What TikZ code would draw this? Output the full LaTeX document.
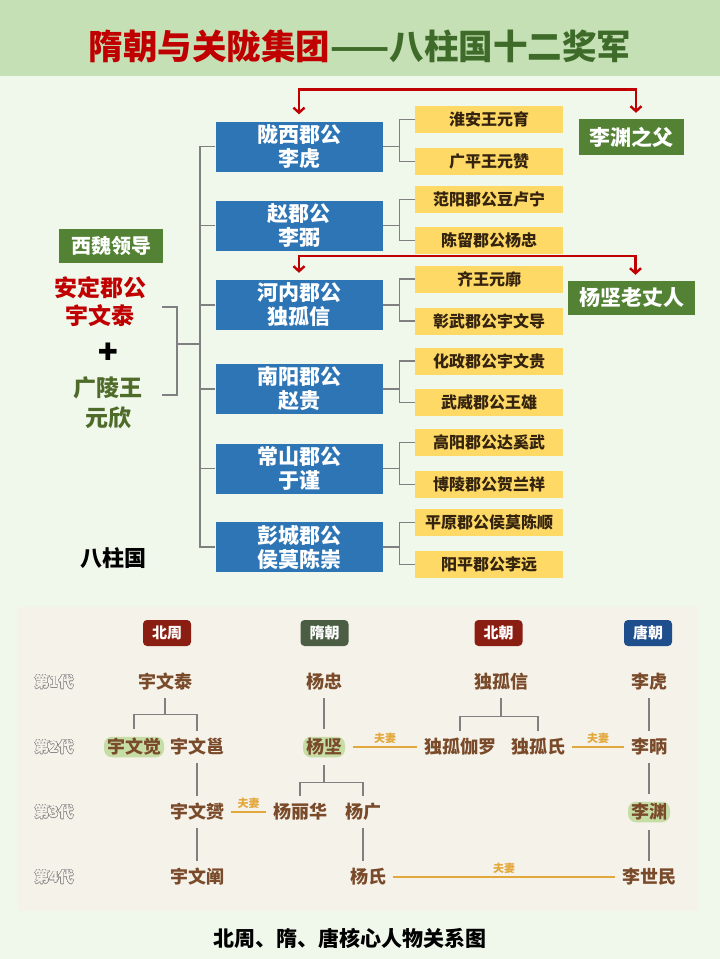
\documentclass[tikz,border=0pt]{standalone}
\usepackage{fontspec}
\setmainfont{Noto Sans CJK SC}
\newfontfamily\symfont{DejaVu Sans}
\usepackage{tikz}
\usetikzlibrary{arrows.meta}
\usepackage{contour}
\contournumber{16}
\contourlength{0.45pt}
\definecolor{banner}{HTML}{C5E0B4}
\definecolor{pagebg}{HTML}{F0F7EB}
\definecolor{titlered}{HTML}{C00000}
\definecolor{titlegreen}{HTML}{3E6B2A}
\definecolor{pillarblue}{HTML}{2E75B6}
\definecolor{genyellow}{HTML}{FFD966}
\definecolor{gentext}{HTML}{33230F}
\definecolor{taggreen}{HTML}{548235}
\definecolor{linegray}{HTML}{808080}
\definecolor{linkred}{HTML}{C00000}
\definecolor{olivetext}{HTML}{4F6B2A}
\definecolor{panel}{HTML}{F5F2EA}
\definecolor{namebrown}{HTML}{7A4B2A}
\definecolor{hlgreen}{HTML}{C6DDA5}
\definecolor{zhoured}{HTML}{8B1E12}
\definecolor{suigreen}{HTML}{4B5E44}
\definecolor{tangblue}{HTML}{1F4E8C}
\definecolor{spousegold}{HTML}{E3A83B}
\definecolor{gengray}{HTML}{8A8A8A}

\begin{document}
\begin{tikzpicture}[x=1pt, y=-1pt,
    pillar/.style={fill=pillarblue, text=white, minimum width=167pt, minimum height=50pt,
      inner sep=0pt, align=center, font=\fontsize{21}{24}\selectfont\bfseries},
    general/.style={fill=genyellow, text=gentext, minimum width=148pt, minimum height=27pt,
      inner sep=0pt, font=\fontsize{16}{16}\selectfont\bfseries},
    tag/.style={fill=taggreen, text=white, inner sep=0pt, font=\fontsize{21}{21}\selectfont\bfseries},
    branch/.style={draw=linegray, line width=1.2pt},
    redlink/.style={draw=linkred, line width=2.4pt,
      {Straight Barb[length=5pt,width=11pt]}-{Straight Barb[length=5pt,width=11pt]},
      shorten <=7pt, shorten >=6pt},
    era/.style={rounded corners=4pt, text=white, minimum width=48pt, minimum height=26pt,
      inner sep=0pt, font=\fontsize{15}{15}\selectfont\bfseries},
    person/.style={text=namebrown, inner sep=0pt, outer sep=7pt, text height=15pt,
      text depth=2.5pt, font=\fontsize{18}{18}\selectfont\bfseries},
    heir/.style={person, fill=hlgreen, rounded corners=8pt, inner xsep=3pt,
      inner ysep=1.5pt, outer sep=8pt},
    kin/.style={draw=linegray, line width=1.4pt},
    spouse/.style={draw=spousegold, line width=1.4pt},
    wed/.style={text=spousegold, inner sep=0pt, above=3pt, font=\fontsize{11}{11}\selectfont\bfseries},
    gen/.style={text=panel, font=\fontsize{15}{15}\selectfont\bfseries}]

    % page and banner
    \useasboundingbox (0,0) rectangle (720,959);
    \fill[pagebg] (0,0) rectangle (720,959);
    \fill[banner] (0,0) rectangle (720,76);
    \node[font=\fontsize{34.5}{34.5}\selectfont\bfseries] (title) at (360,46)
      {\textcolor{titlered}{隋朝与关陇集团}\textcolor{titlegreen}{——八柱国十二奖军}};

    % the eight pillars (six of them here)
    \foreach \n/\y/\ta/\tb in {1/146.5/陇西郡公/李虎, 2/225.5/赵郡公/李弼,
        3/305/河内郡公/独孤信, 4/389/南阳郡公/赵贵, 5/468.5/常山郡公/于谨,
        6/547/彭城郡公/侯莫陈崇}
      \node[pillar] (p\n) at (299,\y) {\ta\\\tb};

    % the twelve generals, two per pillar
    \foreach \n/\ya/\yb/\ta/\tb in {1/119.5/161.5/淮安王元育/广平王元赞,
        2/199.5/240.5/范阳郡公豆卢宁/陈留郡公杨忠, 3/279/321/齐王元廓/彰武郡公宇文导,
        4/361/402.5/化政郡公宇文贵/武威郡公王雄, 5/442.5/484.5/高阳郡公达奚武/博陵郡公贺兰祥,
        6/522.5/564.5/平原郡公侯莫陈顺/阳平郡公李远} {
      \node[general] (gA\n) at (489,\ya) {\ta};
      \node[general] (gB\n) at (489,\yb) {\tb};
    }

    % side notes
    \node[tag, minimum width=105pt, minimum height=36pt] (lyfather) at (631,137) {李渊之父};
    \node[tag, minimum width=127pt, minimum height=34pt] (yjfather) at (631.5,298) {杨坚老丈人};

    % leaders on the left
    \node[tag, minimum width=104pt, minimum height=34pt, font=\fontsize{20}{20}\selectfont\bfseries]
      (lead) at (111,246) {西魏领导};
    \node[text=titlered, align=center, font=\fontsize{23}{28}\selectfont\bfseries]
      (adtai) at (100,302) {安定郡公\\宇文泰};
    \node[font=\symfont\fontsize{24}{24}\selectfont] (plus) at (108,352) {✚};
    \node[text=olivetext, align=center, font=\fontsize{23}{30}\selectfont\bfseries]
      (glwang) at (108,403) {广陵王\\元欣};
    \node[font=\fontsize{22}{22}\selectfont\bfseries] (bzg) at (113,558) {八柱国};
    \coordinate (adend) at (162,307);
    \coordinate (glend) at (162,395);
    \coordinate (lk) at (177,344);
    \coordinate (trunk) at (200,344);

    % tree lines
    \draw[branch] (adend) -| (lk) |- (glend);
    \draw[branch] (lk) -- (trunk);
    \draw[branch] (p1.west) -- (p1.west -| trunk) -- (p6.west -| trunk) -- (p6.west);
    \foreach \n in {2,...,5}
      \draw[branch] (p\n.west) -- (p\n.west -| trunk);
    \foreach \n in {1,...,6} {
      \draw[branch] (p\n.east) -- ([xshift=-15pt]gA\n.west |- p\n.east);
      \draw[branch] (gA\n.west) -- ++(-15,0) |- (gB\n.west);
    }

    % red links
    \draw[redlink] (p1.north) -- ++(0,-32) -| ([xshift=5pt]lyfather.north);
    \draw[redlink] (p3.north) -- ++(0,-24) -| ([xshift=4pt]yjfather.north);

    % family chart
    \fill[panel] (17,607) rectangle (698,911);
    \node[era, fill=zhoured] (ez) at (167,633) {北周};
    \node[era, fill=suigreen] (es) at (324.5,633) {隋朝};
    \node[era, fill=zhoured] (eb) at (498.5,633) {北朝};
    \node[era, fill=tangblue] (et) at (648,633) {唐朝};
    \foreach \g/\y in {1/682, 2/747, 3/812, 4/877}
      \node[gen] (gen\g) at (54,\y) {\contour{gengray}{第\g 代}};

    \node[person] (zt) at (165,682) {宇文泰};
    \node[person] (yzh) at (324,682) {杨忠};
    \node[person] (dgx) at (501,682) {独孤信};
    \node[person] (lhu) at (649,682) {李虎};
    \node[heir] (zjue) at (134,747) {宇文觉};
    \node[person] (zyong) at (197,747) {宇文邕};
    \node[heir] (yjian) at (324,747) {杨坚};
    \node[person] (dgjl) at (460,747) {独孤伽罗};
    \node[person] (dgs) at (538,747) {独孤氏};
    \node[person] (lbing) at (649,747) {李昞};
    \node[person] (zyun) at (197,812) {宇文赟};
    \node[person] (ylh) at (300,812) {杨丽华};
    \node[person] (yg) at (363,812) {杨广};
    \node[heir] (lyuan) at (649,812) {李渊};
    \node[person] (zchan) at (197,877) {宇文阐};
    \node[person] (ys) at (368,877) {杨氏};
    \node[person] (lsm) at (649,877) {李世民};

    % descent
    \draw[kin] (zt.south) -- ++(0,17) coordinate (fz);
    \draw[kin] (zjue.north) |- (fz) -| (zyong.north);
    \draw[kin] (yjian.south) -- ++(0,17) coordinate (fy);
    \draw[kin] (ylh.north) |- (fy) -| (yg.north);
    \draw[kin] (dgx.south) -- ++(0,19) coordinate (fd);
    \draw[kin] (dgjl.north) |- (fd) -| (dgs.north);
    \draw[kin] (zyong.south) -- (zyun.north);
    \draw[kin] (zyun.south) -- (zchan.north);
    \draw[kin] (yzh.south) -- (yjian.north);
    \draw[kin] (yg.south) -- (yg.south |- ys.north);
    \draw[kin] (lhu.south) -- (lbing.north);
    \draw[kin] (lbing.south) -- (lyuan.north);
    \draw[kin] (lyuan.south) -- (lsm.north);

    % marriages
    \draw[spouse] (yjian.east) -- node[wed] (w1) {夫妻} (dgjl.west);
    \draw[spouse] (dgs.east) -- node[wed] (w2) {夫妻} (lbing.west);
    \draw[spouse] (zyun.east) -- node[wed] (w3) {夫妻} (ylh.west);
    \draw[spouse] (ys.east) -- node[wed] (w4) {夫妻} (lsm.west);

    \node[font=\fontsize{21}{21}\selectfont\bfseries] (cap) at (350,938) {北周、隋、唐核心人物关系图};

\end{tikzpicture}
\end{document}
